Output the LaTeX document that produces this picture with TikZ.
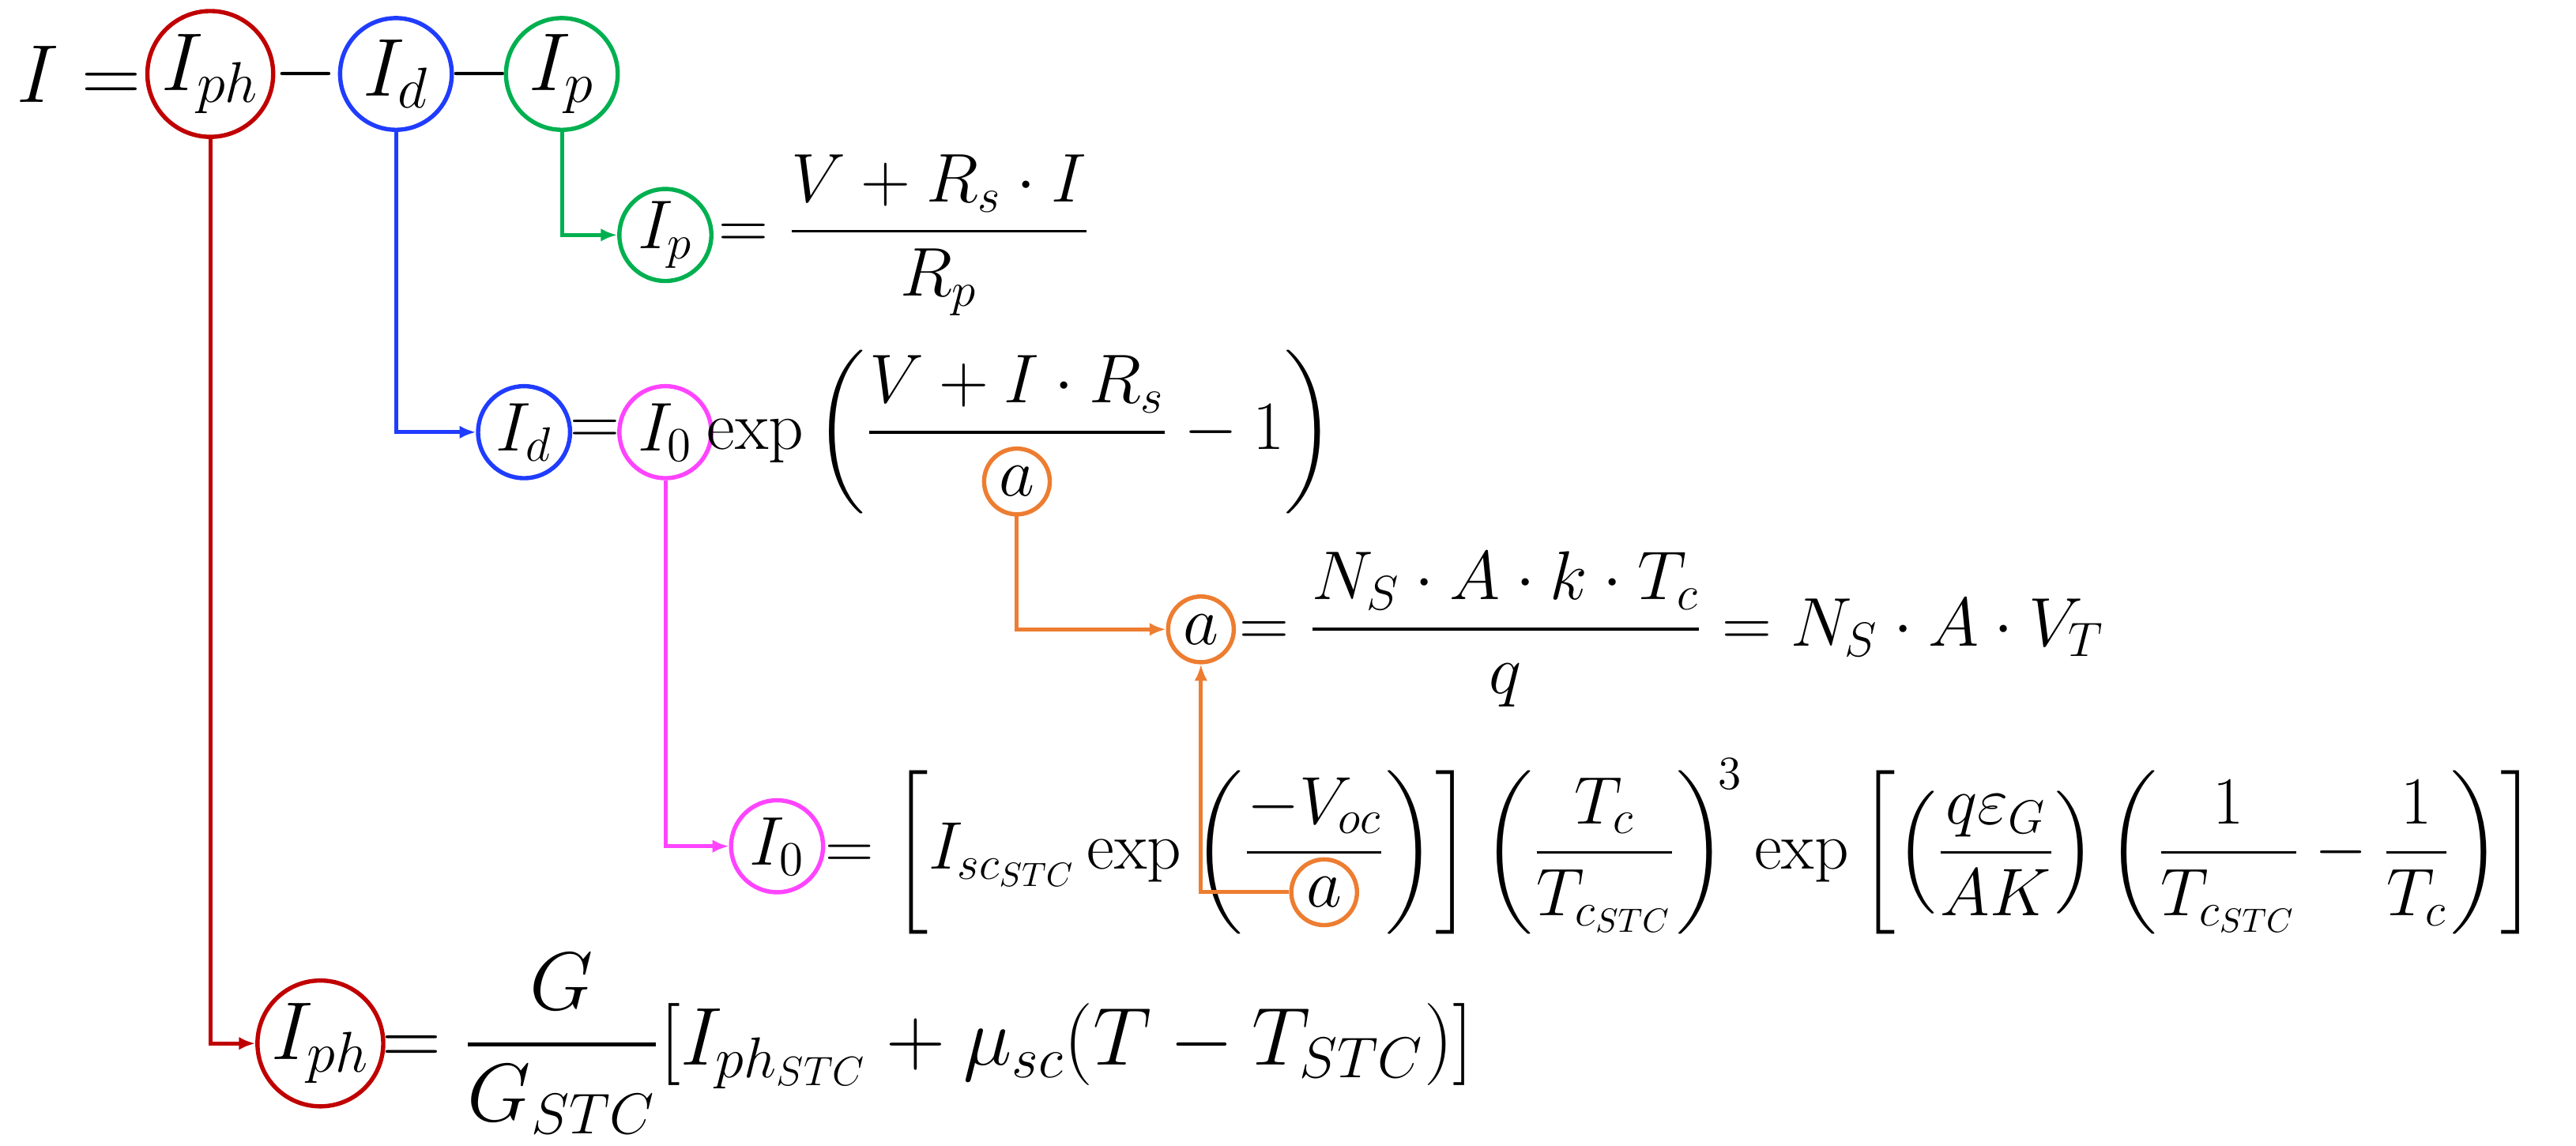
\RequirePackage{fix-cm}
\documentclass[tikz,border=0pt]{standalone}
\usepackage{amsmath}
\usetikzlibrary{arrows.meta}
\definecolor{cred}{HTML}{C00000}
\definecolor{cblue}{HTML}{1F3CFF}
\definecolor{cgreen}{HTML}{00B050}
\definecolor{cmag}{HTML}{FF44FF}
\definecolor{corange}{HTML}{ED7D31}
\begin{document}
\begin{tikzpicture}[x=0.5pt,y=-0.5pt,
  txt/.style={inner sep=0pt,font=\fontsize{21}{26}\selectfont},
  sml/.style={inner sep=0pt,font=\fontsize{20.5}{25}\selectfont},
  big/.style={inner sep=0pt,font=\fontsize{25}{30}\selectfont},
  circ/.style={circle,draw=#1,line width=1.3pt,inner sep=0pt,font=\fontsize{21}{26}\selectfont},
  conn/.style={draw=#1,line width=1.2pt,-{Latex[length=5pt,width=4pt]}}]
\useasboundingbox (0,0) rectangle (1568,697);
% row 1
\node[big,anchor=west] (I) at (10,45) {$I =$};
\node[circ=cred,minimum size=35pt,big] (ph1) at (128,45) {$I_{ph}$};
\node[big] (m1) at (186,45) {$-$};
\node[circ=cblue,minimum size=34pt,big] (d1) at (241,45) {$I_{d}$};
\node[big] (m2) at (292,45) {$-$};
\node[circ=cgreen,minimum size=34pt,big] (p1) at (342,45) {$I_{p}$};
% row 2
\node[circ=cgreen,minimum size=28pt] (p2) at (405,143) {$I_p$};
\node[txt,anchor=west] (e2) at (437,143) {$= \dfrac{V+R_s\cdot I}{R_p}$};
% row 3
\node[circ=cblue,minimum size=28pt] (d2) at (319,263) {$I_d$};
\node[txt] (eq3) at (362,263) {$=$};
\node[circ=cmag,minimum size=28pt] (o1) at (405,263) {$I_0$};
\node[txt,anchor=west] (e3) at (430,263) {$\exp\left(\dfrac{V+I\cdot R_s}{\phantom{a}}-1\right)$};
\node[circ=corange,minimum size=20pt] (a1) at (619,293) {$a$};
% row 4
\node[circ=corange,minimum size=20pt] (a2) at (731,383) {$a$};
\node[txt,anchor=west] (e4) at (754,383) {$= \dfrac{N_S\cdot A\cdot k\cdot T_c}{q} = N_S\cdot A\cdot V_T$};
% row 5
\node[circ=cmag,minimum size=28pt] (o2) at (473,515) {$I_0$};
\node[sml,anchor=west] (e5) at (502,515) {$= \left[I_{sc_{STC}}\exp\left(\dfrac{-V_{oc}}{\phantom{a}}\right)\right]\left(\dfrac{T_c}{T_{c_{STC}}}\right)^{\!3}\exp\left[\left(\dfrac{q\varepsilon_G}{AK}\right)\left(\dfrac{1}{T_{c_{STC}}}-\dfrac{1}{T_c}\right)\right]$};
\node[circ=corange,minimum size=20pt] (a3) at (806,543) {$a$};
% row 6
\node[circ=cred,minimum size=33pt,big] (ph2) at (195,635) {$I_{ph}$};
\node[big,anchor=west] (e6) at (232,635) {$= \dfrac{G}{G_{STC}}[I_{ph_{STC}}+\mu_{sc}(T-T_{STC})]$};
% connectors
\draw[conn=cred] (ph1.south) |- (ph2.west);
\draw[conn=cblue] (d1.south) |- (d2.west);
\draw[conn=cgreen] (p1.south) |- (p2.west);
\draw[conn=cmag] (o1.south) |- (o2.west);
\draw[conn=corange] (a1.south) |- (a2.west);
\draw[conn=corange] (a3.west) -| (a2.south);
\end{tikzpicture}
\end{document}
